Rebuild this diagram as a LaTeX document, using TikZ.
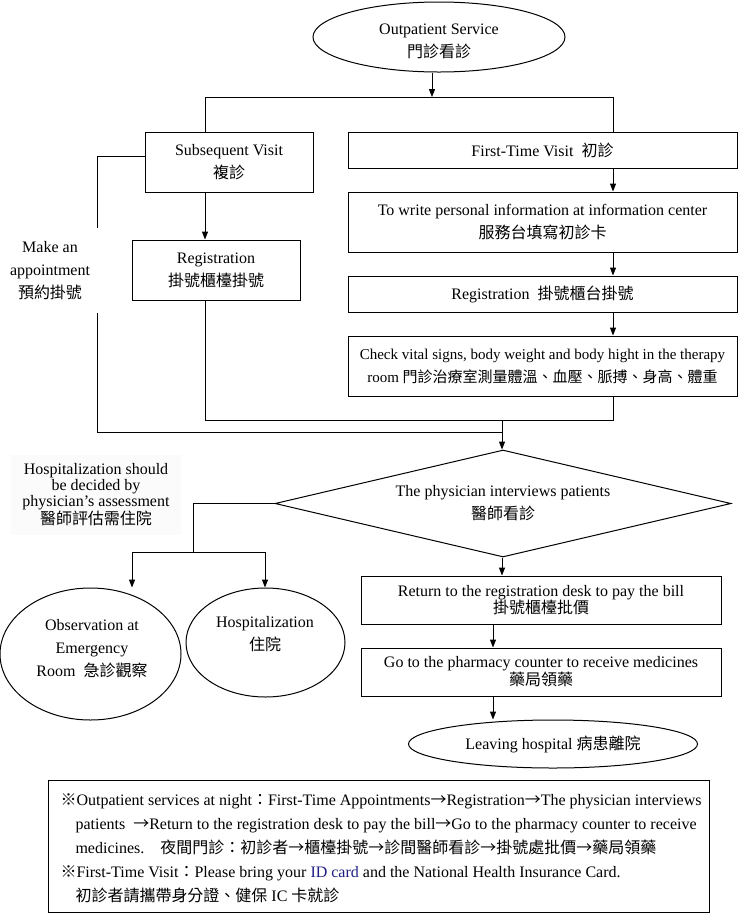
\documentclass[tikz,border=0pt]{standalone}
\usepackage{fontspec}
\setmainfont{Liberation Serif}
\newfontfamily\cjk{Noto Sans CJK TC}
\usetikzlibrary{arrows.meta,shapes.geometric}
\newcommand\zh[1]{{\cjk #1}}
\definecolor{idblue}{RGB}{30,30,130}
\begin{document}
\begin{tikzpicture}[x=1pt,y=-1pt,line width=1pt,
  >={Triangle[length=8pt,width=6pt]},
  font=\fontsize{16}{23}\selectfont,
  box/.style={draw,rectangle,inner sep=0pt,align=center},
  oval/.style={draw,ellipse,inner sep=0pt,align=center},
  tight/.style={font=\fontsize{16}{17}\selectfont},
  notetext/.style={anchor=base west,inner sep=0pt}]
\useasboundingbox[fill=white] (0,0) rectangle (738,914);

% junction coordinates
\coordinate (split) at (432,97);
\coordinate (xL) at (205,0);
\coordinate (xR) at (613,0);
\coordinate (xA) at (97,0);
\coordinate (xM) at (502,0);
\coordinate (xB) at (493,0);
\coordinate (xD) at (193,0);
\coordinate (xE) at (132,0);
\coordinate (xH) at (265,0);
\coordinate (yS) at (0,156);
\coordinate (j1) at (0,420);
\coordinate (j2) at (0,432);
\coordinate (j3) at (0,552);

% nodes
\node[oval,minimum width=252pt,minimum height=70pt] (start) at (439,37)
  {\rule{0pt}{19pt}Outpatient Service\\\zh{門診看診}};
\node[box,minimum width=168pt,minimum height=60pt] (sub) at (229,162)
  {Subsequent Visit\\\zh{複診}};
\node[box,minimum width=389pt,minimum height=36pt] (first) at (542.5,150)
  {First-Time Visit\ \ \zh{初診}};
\node[box,minimum width=389pt,minimum height=60pt] (info) at (542.5,222)
  {To write personal information at information center\\\zh{服務台填寫初診卡}};
\node[box,minimum width=168pt,minimum height=60pt] (reg1) at (216,270)
  {Registration\\\zh{掛號櫃檯掛號}};
\node[box,minimum width=389pt,minimum height=36pt] (reg2) at (542.5,294)
  {Registration\ \ \zh{掛號櫃台掛號}};
\node[box,minimum width=389pt,minimum height=60pt,font=\fontsize{15}{23}\selectfont] (vital) at (542.5,366)
  {Check vital signs, body weight and body hight in the therapy\\room \zh{門診治療室測量體溫、血壓、脈搏、身高、體重}};
\node[draw,diamond,aspect=4.26,inner sep=0pt,minimum width=456pt,minimum height=107pt,align=center] (doc) at (503,503.5)
  {The physician interviews patients\\\zh{醫師看診}};
\node[draw,ellipse,inner sep=0pt,minimum width=181pt,minimum height=132pt] (obs) at (90.5,654) {};
\node[align=center,inner sep=0pt] (obstext) at (92,649)
  {Observation at\\Emergency\\Room\ \ \zh{急診觀察}};
\node[draw,ellipse,inner sep=0pt,minimum width=159pt,minimum height=109pt] (hosp) at (265.5,642.5) {};
\node[align=center,inner sep=0pt] (hosptext) at (265,634)
  {Hospitalization\\\zh{住院}};
\node[box,tight,minimum width=360pt,minimum height=48pt] (ret) at (541,600)
  {Return to the registration desk to pay the bill\\\zh{掛號櫃檯批價}};
\node[box,tight,minimum width=360pt,minimum height=48pt] (pha) at (541,672)
  {Go to the pharmacy counter to receive medicines\\\zh{藥局領藥}};
\node[oval,minimum width=289pt,minimum height=48pt] (leave) at (553,744)
  {Leaving hospital \zh{病患離院}};

% connectors
\draw[->] ([xshift=-7pt]start.south) -- (split);
\draw (sub.north -| xL) -- (xL |- split) -- (xR |- split) -- (first.north -| xR);
\draw[->] (sub.south -| xL) -- (reg1.north -| xL);
\draw[->] (first.south -| xR) -- (info.north -| xR);
\draw[->] (info.south -| xR) -- (reg2.north -| xR);
\draw[->] (reg2.south -| xR) -- (vital.north -| xR);
\draw (reg1.south -| xL) -- (xL |- j1) -- (xR |- j1) -- (vital.south -| xR);
\draw (sub.west |- yS) -- (xA |- yS) -- (xA |- j2) -- (xM |- j2);
\draw[->] (xM |- j1) -- (doc.north -| xM);
\draw (doc.west) -- (xD |- doc.west) -- (xD |- j3);
\draw (xE |- j3) -- (xH |- j3);
\draw[->] (xE |- j3) -- (obs.north -| xE);
\draw[->] (xH |- j3) -- (hosp.north -| xH);
\draw[->] (doc.south -| xM) -- (ret.north -| xM);
\draw[->] (ret.south -| xB) -- (pha.north -| xB);
\draw[->] (pha.south -| xB) -- (leave.north -| xB);

% side labels
\node[fill=white,inner sep=0pt,align=center,minimum width=96pt,minimum height=85pt] (appt) at (50,270.5)
  {Make an\\appointment\\\zh{預約掛號}};
\node[fill=black!1.5,inner sep=0pt,align=center,minimum width=170pt,minimum height=80pt,font=\fontsize{16}{16}\selectfont] (hnote) at (96,495)
  {Hospitalization should\\be decided by\\physician's assessment\\\zh{醫師評估需住院}};

% note box
\node[draw,rectangle,minimum width=661pt,minimum height=132pt,inner sep=0pt] (note) at (378.5,846) {};
\node[notetext] (n1) at (60,805)
  {\zh{※}Outpatient services at night\zh{：}First-Time Appointments\zh{→}Registration\zh{→}The physician interviews};
\node[notetext] (n2) at (75,829)
  {patients\ \ \zh{→}Return to the registration desk to pay the bill\zh{→}Go to the pharmacy counter to receive};
\node[notetext] (n3) at (75,853)
  {medicines.\ \ \ \ \zh{夜間門診：初診者→櫃檯掛號→診間醫師看診→掛號處批價→藥局領藥}};
\node[notetext] (n4) at (60,877)
  {\zh{※}First-Time Visit\zh{：}Please bring your \textcolor{idblue}{ID card} and the National Health Insurance Card.};
\node[notetext] (n5) at (75,901)
  {\zh{初診者請攜帶身分證、健保} IC \zh{卡就診}};
\end{tikzpicture}
\end{document}
